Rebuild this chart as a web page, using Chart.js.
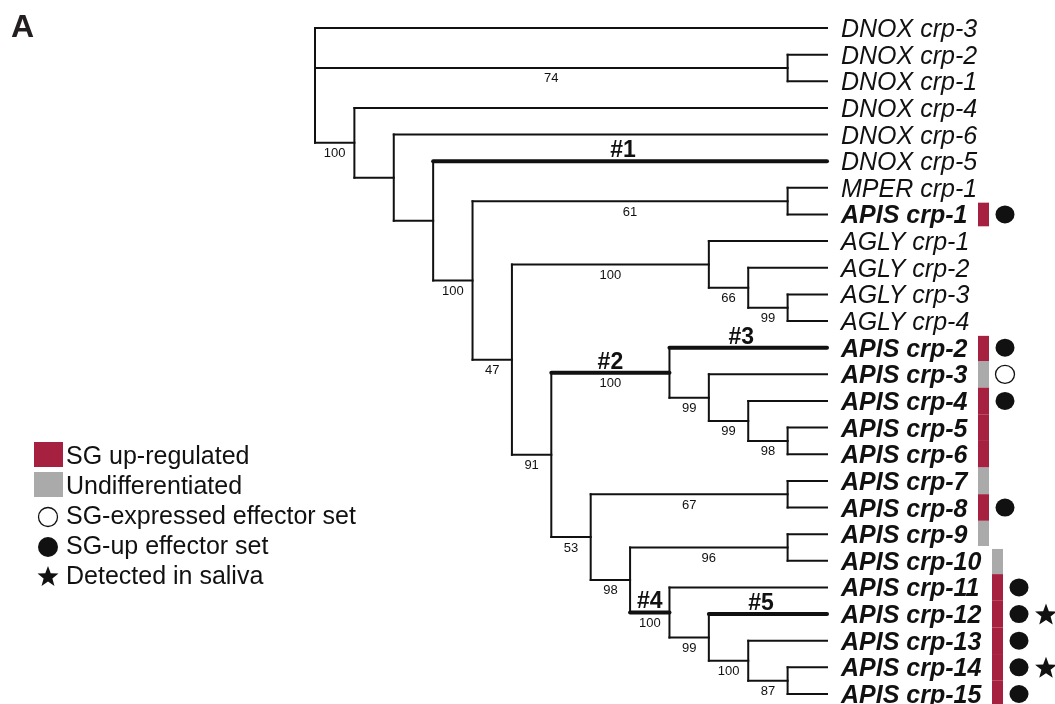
<!DOCTYPE html>
<html>
<head>
<meta charset="utf-8">
<script src="https://cdn.jsdelivr.net/npm/chart.js@4.4.1/dist/chart.umd.min.js"></script>
<style>
html, body { margin: 0; padding: 0; background: #fff; }
#wrap { width: 1055px; height: 704px; position: relative; }
</style>
</head>
<body>
<div id="wrap"><canvas id="treeChart"></canvas></div>
<script>
// leaves, top to bottom
const leafNames = [
  "DNOX crp-3", "DNOX crp-2", "DNOX crp-1", "DNOX crp-4", "DNOX crp-6", "DNOX crp-5",
  "MPER crp-1", "APIS crp-1",
  "AGLY crp-1", "AGLY crp-2", "AGLY crp-3", "AGLY crp-4",
  "APIS crp-2", "APIS crp-3", "APIS crp-4", "APIS crp-5", "APIS crp-6", "APIS crp-7",
  "APIS crp-8", "APIS crp-9", "APIS crp-10", "APIS crp-11", "APIS crp-12", "APIS crp-13",
  "APIS crp-14", "APIS crp-15"
];

// internal nodes: numbers are leaf indexes, strings are other nodes
const nodeIds  = ["r", "a", "b", "c", "d", "e", "f", "g", "h", "j", "k", "i", "l", "n", "o", "p", "m", "q", "s", "t", "u", "v", "w", "x"];
const nodeKids = [
  [0, "a", "b"], [1, 2], [3, "c"], [4, "d"], [5, "e"], ["f", "g"], [6, 7], ["h", "i"],
  [8, "j"], [9, "k"], [10, 11], ["l", "m"], [12, "n"], [13, "o"], [14, "p"], [15, 16],
  ["q", "s"], [17, 18], ["t", "u"], [19, 20], [21, "v"], [22, "w"], [23, "x"], [24, 25]
];
// bootstrap support on the branch leading to each node
const bootstrap = [null, 74, 100, null, null, 100, 61, 47, 100, 66, 99, 91, 100, 99, 99, 98, 53, 67, 98, 96, 100, 99, 100, 87];

const cladeLabels   = ["#1", "#2", "#3", "#4", "#5"];
const cladeBranches = [5, "l", 12, "u", 22];

// 'up' = SG up-regulated, 'un' = undifferentiated
const sgExpression = [null, null, null, null, null, null, null, "up",
  null, null, null, null,
  "up", "un", "up", "up", "up", "un", "up", "un", "un", "up", "up", "up", "up", "up"];
// 'open' = SG-expressed effector set, 'full' = SG-up effector set
const effectorSet = [null, null, null, null, null, null, null, "full",
  null, null, null, null,
  "full", "open", "full", null, null, null, "full", null, null, "full", "full", "full", "full", "full"];
const inSaliva = ["APIS crp-12", "APIS crp-14"];

const legendItems = ["SG up-regulated", "Undifferentiated", "SG-expressed effector set", "SG-up effector set", "Detected in saliva"];

const RED = "#a5213f";
const GREY = "#aaaaaa";
const INK = "#111";
const FONT = '"Liberation Sans", Arial, Helvetica, sans-serif';

// tree layout
const kidsOf = {};
nodeIds.forEach((id, i) => { kidsOf[id] = nodeKids[i]; });
const parentOf = {};
nodeIds.forEach((id, i) => { nodeKids[i].forEach(k => { parentOf[k] = id; }); });

function height(k) {
  if (typeof k === "number") return 0;
  return 1 + Math.max(...kidsOf[k].map(height));
}
const tipLevel = height("r");
function levelOf(k) { return typeof k === "number" ? tipLevel : tipLevel - height(k); }
function yOf(k) {
  if (typeof k === "number") return k;
  const ks = kidsOf[k];
  return (yOf(ks[0]) + yOf(ks[ks.length - 1])) / 2;
}

const segments = [];
nodeIds.forEach((id, i) => {
  const kids = nodeKids[i];
  const lx = levelOf(id);
  segments.push({ pts: [{ x: lx, y: yOf(kids[0]) }, { x: lx, y: yOf(kids[kids.length - 1]) }], thick: false });
  kids.forEach(k => {
    segments.push({ pts: [{ x: lx, y: yOf(k) }, { x: levelOf(k), y: yOf(k) }], thick: cladeBranches.includes(k) });
  });
});

function star(ctx, cx, cy, R) {
  const r = R * 0.42;
  ctx.beginPath();
  for (let i = 0; i < 10; i++) {
    const a = -Math.PI / 2 + i * Math.PI / 5;
    const rr = i % 2 === 0 ? R : r;
    ctx.lineTo(cx + rr * Math.cos(a), cy + rr * Math.sin(a));
  }
  ctx.closePath();
  ctx.fill();
}

const treeText = {
  id: "treeText",
  afterDatasetsDraw(chart) {
    const ctx = chart.ctx;
    const xs = chart.scales.x, ys = chart.scales.y;
    const rowH = ys.getPixelForValue(1) - ys.getPixelForValue(0);
    ctx.save();

    // panel letter
    ctx.font = "bold 32px " + FONT;
    ctx.textAlign = "left";
    ctx.fillStyle = "#231f20";
    ctx.fillText("A", 11, 37);
    ctx.fillStyle = INK;

    // leaf names
    const labelX = xs.getPixelForValue(tipLevel) + 14;
    const widths = leafNames.map(name => {
      ctx.font = "italic " + (name.startsWith("APIS") ? "bold " : "") + "25px " + FONT;
      return ctx.measureText(name).width;
    });
    leafNames.forEach((name, i) => {
      ctx.font = "italic " + (name.startsWith("APIS") ? "bold " : "") + "25px " + FONT;
      ctx.textAlign = "left";
      ctx.fillText(name, labelX, ys.getPixelForValue(i) + 9);
    });
    // annotation column: widest label of the same length
    const barX = leafNames.map(name => {
      let w = 0;
      leafNames.forEach((n, j) => { if (n.length === name.length && n.startsWith("APIS")) w = Math.max(w, widths[j]); });
      return Math.round(labelX + w + 11);
    });

    // bootstrap values under branches
    ctx.font = "13px " + FONT;
    ctx.textAlign = "center";
    nodeIds.forEach((id, i) => {
      if (bootstrap[i] == null) return;
      const p = parentOf[id];
      const cx = (xs.getPixelForValue(levelOf(p)) + xs.getPixelForValue(levelOf(id))) / 2;
      ctx.fillText(String(bootstrap[i]), cx, ys.getPixelForValue(yOf(id)) + 14.5);
    });

    // clade marks over thick branches
    ctx.font = "bold 23px " + FONT;
    cladeBranches.forEach((k, i) => {
      const p = parentOf[k];
      const x1 = xs.getPixelForValue(levelOf(p));
      const x2 = xs.getPixelForValue(levelOf(k)) - (typeof k === "number" ? 14 : 0);
      ctx.fillText(cladeLabels[i], (x1 + x2) / 2, ys.getPixelForValue(yOf(k)) - 4);
    });

    // expression bars, effector circles, saliva stars
    leafNames.forEach((name, i) => {
      const cy = ys.getPixelForValue(i);
      const bx = barX[i];
      if (sgExpression[i]) {
        const prevSame = i > 0 && sgExpression[i - 1] && barX[i - 1] === bx;
        const nextSame = i < leafNames.length - 1 && sgExpression[i + 1] && barX[i + 1] === bx;
        const top = cy - rowH / 2 + (prevSame ? 0 : 1.5);
        const bot = cy + rowH / 2 - (nextSame ? 0 : 1.5);
        ctx.fillStyle = sgExpression[i] === "up" ? RED : GREY;
        ctx.fillRect(bx, top, 11, bot - top);
      }
      if (effectorSet[i]) {
        ctx.beginPath();
        ctx.ellipse(bx + 27, cy, 9.5, 9, 0, 0, Math.PI * 2);
        if (effectorSet[i] === "full") {
          ctx.fillStyle = INK;
          ctx.fill();
        } else {
          ctx.fillStyle = "#fff";
          ctx.fill();
          ctx.lineWidth = 1.3;
          ctx.strokeStyle = INK;
          ctx.stroke();
        }
      }
      if (inSaliva.includes(name)) {
        ctx.fillStyle = INK;
        star(ctx, bx + 54, cy + 1, 11.5);
      }
    });

    // legend
    ctx.fillStyle = RED;
    ctx.fillRect(34, 442, 29, 25);
    ctx.fillStyle = GREY;
    ctx.fillRect(34, 472, 29, 25);
    ctx.fillStyle = INK;
    ctx.beginPath();
    ctx.arc(48, 517, 9.5, 0, Math.PI * 2);
    ctx.lineWidth = 1.3;
    ctx.strokeStyle = INK;
    ctx.stroke();
    ctx.beginPath();
    ctx.arc(48, 547, 10, 0, Math.PI * 2);
    ctx.fill();
    star(ctx, 48, 577, 11);
    ctx.font = "25px " + FONT;
    ctx.textAlign = "left";
    legendItems.forEach((t, i) => ctx.fillText(t, 66, 464 + i * 30));

    ctx.restore();
  }
};

new Chart("treeChart", {
  type: "scatter",
  data: {
    datasets: segments.map(s => ({
      data: s.pts,
      showLine: true,
      borderColor: INK,
      borderWidth: s.thick ? 4 : 2,
      borderCapStyle: s.thick ? "round" : "square",
      pointRadius: 0,
      clip: false
    }))
  },
  options: {
    responsive: true,
    maintainAspectRatio: false,
    animation: false,
    layout: { padding: { left: 315, right: 228, top: 28, bottom: 10 } },
    scales: {
      x: { type: "linear", min: 0, max: tipLevel, display: false },
      y: { type: "linear", min: 0, max: leafNames.length - 1, reverse: true, display: false }
    },
    plugins: { legend: { display: false }, tooltip: { enabled: false } }
  },
  plugins: [treeText]
});
</script>
</body>
</html>
